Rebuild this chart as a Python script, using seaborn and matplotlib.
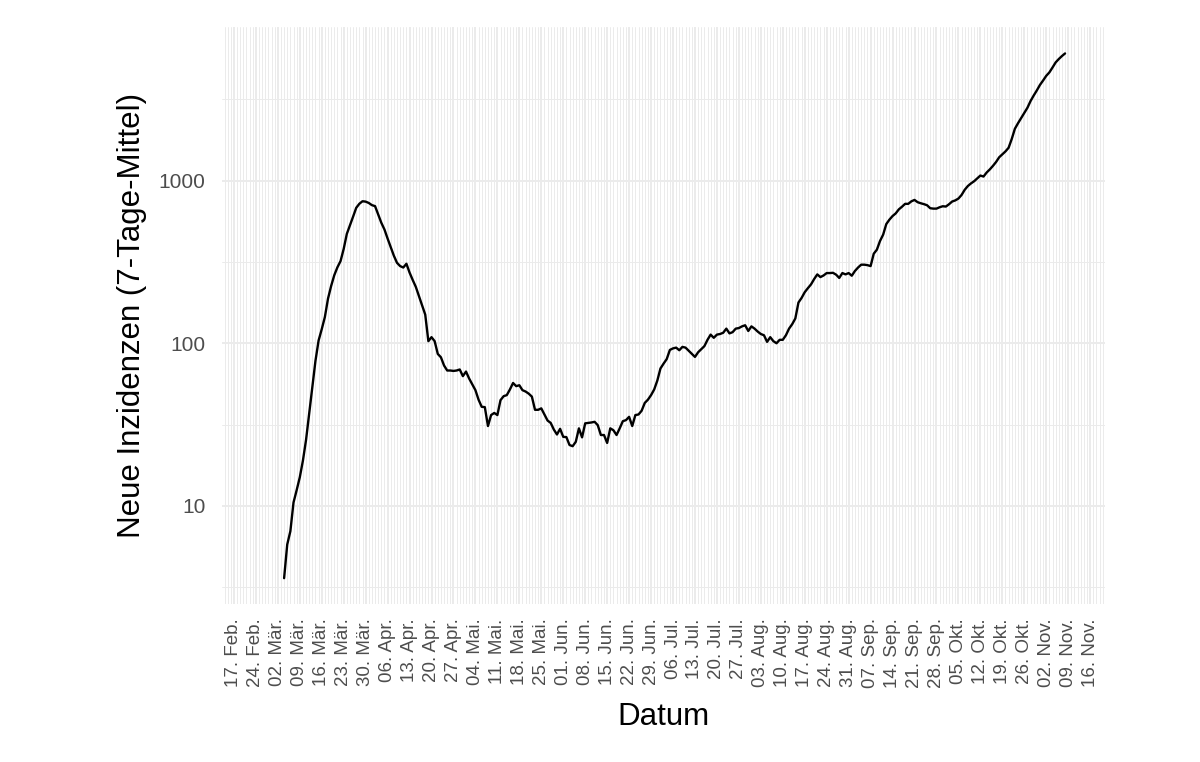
import numpy as np
import pandas as pd
import matplotlib
matplotlib.use("Agg")
import matplotlib.pyplot as plt
import matplotlib.dates as mdates
from matplotlib.ticker import FixedLocator, FixedFormatter, NullFormatter
import seaborn as sns

sns.set_theme(style="white")
plt.rcParams["font.family"] = ["Liberation Sans", "DejaVu Sans"]

# daily 7-day mean of new cases, starting 26 Feb 2020
# (first week is zero -> not drawn on the log axis)
start_date = "2020-02-26"
new_cases = [np.nan] * 7 + [
    3.6, 5.8, 7.0, 10.5, 12.5, 15.0, 19, 25.5, 37, 54,
    78, 104, 122, 145, 188, 225, 262, 293, 320, 380,
    470, 530, 600, 680, 720, 746, 742, 728, 706, 696,
    620, 550, 500, 440, 390, 345, 312, 298, 292, 308,
    272, 245, 222, 195, 172, 150, 103, 109, 103, 86,
    82, 73, 68, 68, 67.6, 68, 69, 62.8, 67, 60.7,
    56, 51.5, 45, 40.7, 40.5, 31, 36.2, 37.3, 36.2, 44.7,
    47.3, 48, 52, 57, 54.5, 55.2, 51.5, 50.5, 49, 47,
    39, 39, 39.8, 36.5, 33.5, 32.4, 29.5, 27.5, 29.8, 26.6,
    26.5, 23.7, 23.3, 24.8, 30, 26.4, 32.2, 32.4, 32.6, 32.9,
    31.4, 27.3, 27.3, 24.4, 30, 29.2, 27.3, 30, 33.2, 33.7,
    35.3, 31, 36.2, 36.5, 38.5, 43, 45, 48, 52, 59,
    70, 75, 80, 91, 93, 94, 90.6, 95, 94, 90,
    86, 82.4, 88, 92, 96, 105, 113, 108, 113, 114,
    116, 123, 115, 117, 123, 124, 127, 129, 119, 127,
    123, 118, 114, 112, 102, 109, 103, 100, 105, 105,
    112, 123, 131, 142, 178, 190, 206, 218, 230, 248,
    265, 255, 261, 270, 270, 271, 264, 252, 270, 265,
    270, 260, 278, 292, 304, 304, 302, 298, 355, 376,
    425, 465, 540, 575, 605, 628, 665, 690, 719, 719,
    745, 760, 736, 725, 716, 705, 676, 672, 672, 685,
    695, 692, 715, 743, 755, 775, 815, 877, 925, 960,
    990, 1030, 1073, 1058, 1120, 1170, 1230, 1300, 1390, 1450,
    1510, 1590, 1800, 2080, 2250, 2420, 2600, 2800, 3080, 3330,
    3580, 3870, 4120, 4400, 4620, 4950, 5320, 5580, 5820, 6040,
]

month_abbr = {2: "Feb.", 3: "Mär.", 4: "Apr.", 5: "Mai.", 6: "Jun.",
              7: "Jul.", 8: "Aug.", 9: "Sep.", 10: "Okt.", 11: "Nov."}
tick_dates = pd.date_range("2020-02-17", "2020-11-16", freq="7D")
tick_labels = [f"{d.day:02d}. {month_abbr[d.month]}" for d in tick_dates]
y_breaks = [10, 100, 1000]

df = pd.DataFrame({
    "Datum": pd.date_range(start_date, periods=len(new_cases), freq="D"),
    "faelle": new_cases,
})

fig = plt.figure(figsize=(12, 7.62), dpi=100)
ax = fig.add_axes([0.185, 0.2068, 0.736, 0.7575])
ax.set_yscale("log")

sns.lineplot(data=df.dropna(), x="Datum", y="faelle", color="black",
             linewidth=1.7, ax=ax)

# ggplot-like 5% expansion
x0 = mdates.date2num(df["Datum"].min())
x1 = mdates.date2num(df["Datum"].max())
pad = 0.05 * (x1 - x0)
ax.set_xlim(x0 - pad, x1 + pad)
lo = np.log10(np.nanmin(df["faelle"]))
hi = np.log10(np.nanmax(df["faelle"]))
ypad = 0.05 * (hi - lo)
ax.set_ylim(10 ** (lo - ypad), 10 ** (hi + ypad))

ax.xaxis.set_major_locator(FixedLocator(mdates.date2num(tick_dates)))
ax.xaxis.set_major_formatter(FixedFormatter(tick_labels))
ax.xaxis.set_minor_locator(mdates.DayLocator())
ax.yaxis.set_major_locator(FixedLocator(y_breaks))
ax.yaxis.set_major_formatter(FixedFormatter([str(v) for v in y_breaks]))
ax.yaxis.set_minor_locator(FixedLocator([10 ** 0.5, 10 ** 1.5, 10 ** 2.5, 10 ** 3.5]))
ax.yaxis.set_minor_formatter(NullFormatter())

ax.grid(which="major", color="#EBEBEB", linewidth=1.4)
ax.grid(which="minor", color="#EBEBEB", linewidth=0.7)
ax.set_axisbelow(True)
for s in ax.spines.values():
    s.set_visible(False)

ax.tick_params(axis="both", which="both", length=0, colors="#4D4D4D")
ax.tick_params(axis="x", pad=10, labelsize=13.5)
ax.tick_params(axis="y", pad=12, labelsize=15)
plt.setp(ax.get_xticklabels(), rotation=90)

ax.set_xlabel("Datum", fontsize=22.5, color="black", labelpad=10)
ax.set_ylabel("Neue Inzidenzen (7-Tage-Mittel)", fontsize=22.5, color="black", labelpad=8)

fig.savefig("out.png", dpi=100)
